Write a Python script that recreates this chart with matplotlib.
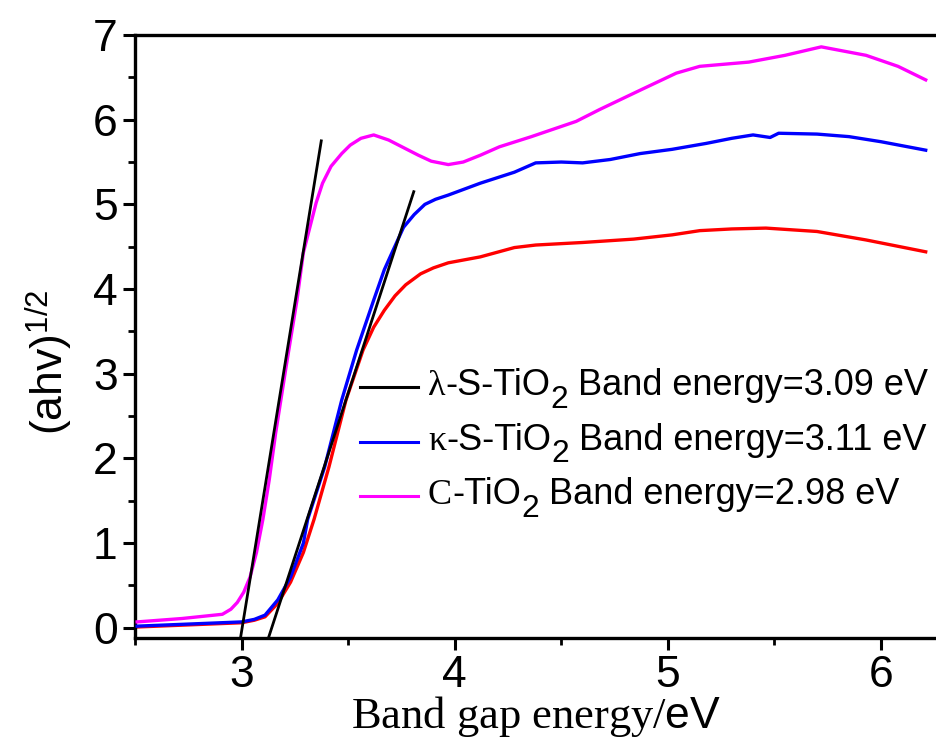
import matplotlib
matplotlib.use("Agg")
import matplotlib.pyplot as plt
from matplotlib.ticker import MultipleLocator
from matplotlib.lines import Line2D

plt.rcParams['font.family'] = ['Liberation Sans', 'DejaVu Sans']
plt.rcParams['mathtext.fontset'] = 'custom'
plt.rcParams['mathtext.rm'] = 'Liberation Serif'
plt.rcParams['mathtext.it'] = 'Liberation Serif:italic'
plt.rcParams['mathtext.sf'] = 'Liberation Sans'

# ---- data ----
c_x = [2.51, 2.72, 2.91, 2.95, 2.98, 3.01, 3.04, 3.07, 3.10, 3.13, 3.16, 3.21, 3.26,
       3.29, 3.35, 3.38, 3.42, 3.47, 3.51, 3.56, 3.62, 3.69, 3.76, 3.83, 3.89, 3.97,
       4.04, 4.12, 4.21, 4.36, 4.50, 4.57, 4.68, 4.88, 5.04, 5.15, 5.38, 5.55, 5.72,
       5.93, 6.08, 6.21]
c_y = [0.07, 0.11, 0.16, 0.22, 0.30, 0.42, 0.60, 0.89, 1.28, 1.75, 2.30, 3.10, 3.87,
       4.43, 5.02, 5.25, 5.45, 5.60, 5.70, 5.78, 5.82, 5.76, 5.67, 5.58, 5.51, 5.47,
       5.50, 5.58, 5.68, 5.80, 5.92, 5.98, 6.12, 6.36, 6.55, 6.63, 6.68, 6.76, 6.86,
       6.76, 6.63, 6.47]

k_x = [2.51, 3.00, 3.06, 3.11, 3.17, 3.23, 3.29, 3.31, 3.39, 3.47, 3.54, 3.62, 3.67,
       3.76, 3.81, 3.86, 3.91, 3.97, 4.12, 4.28, 4.38, 4.50, 4.60, 4.73, 4.87, 5.02,
       5.18, 5.30, 5.40, 5.48, 5.52, 5.70, 5.85, 6.00, 6.21]
k_y = [0.02, 0.07, 0.10, 0.15, 0.33, 0.60, 1.00, 1.28, 1.90, 2.69, 3.28, 3.87, 4.23,
       4.73, 4.88, 5.00, 5.06, 5.11, 5.25, 5.38, 5.49, 5.50, 5.49, 5.53, 5.60, 5.65,
       5.72, 5.78, 5.82, 5.79, 5.84, 5.83, 5.80, 5.74, 5.64]

l_x = [2.51, 3.00, 3.06, 3.11, 3.17, 3.23, 3.29, 3.34, 3.41, 3.49, 3.57, 3.62, 3.67,
       3.72, 3.77, 3.84, 3.90, 3.97, 4.12, 4.28, 4.38, 4.60, 4.84, 5.02, 5.15, 5.30,
       5.46, 5.70, 5.93, 6.21]
l_y = [0.01, 0.06, 0.09, 0.13, 0.29, 0.54, 0.89, 1.28, 1.90, 2.69, 3.28, 3.55, 3.75,
       3.92, 4.05, 4.18, 4.25, 4.31, 4.38, 4.49, 4.52, 4.55, 4.59, 4.64, 4.69, 4.71,
       4.72, 4.68, 4.58, 4.44]

# tangent lines (endpoints)
t1_x = [2.995, 3.374]
t1_y = [-0.12, 5.75]
t2_x = [3.126, 3.808]
t2_y = [-0.12, 5.15]

leg_prefix = ['\u03bb', '\u03ba', 'C']
leg_mid = ['-S-TiO', '-S-TiO', '-TiO']
leg_sub = ['2', '2', '2']
leg_rest = [' Band energy=3.09 eV', ' Band energy=3.11 eV', ' Band energy=2.98 eV']
leg_colors = ['black', '#0000ff', '#ff00ff']

W, H = 937, 750
fig = plt.figure(figsize=(W / 100, H / 100), dpi=100)
ax = fig.add_axes([135 / W, 112 / H, 1 - 135 / W, (638 - 35) / H])

lw = 2.4
ax.plot(l_x, l_y, color='#ff0000', lw=lw, zorder=2)
ax.plot(k_x, k_y, color='#0000ff', lw=lw, zorder=3)
ax.plot(c_x, c_y, color='#ff00ff', lw=lw, zorder=3)
ax.plot(t1_x, t1_y, color='black', lw=2.0, zorder=4, clip_on=False)
ax.plot(t2_x, t2_y, color='black', lw=2.0, zorder=4, clip_on=False)

ax.set_xlim(2.5, 6.263)
ax.set_ylim(-0.12, 7.0)
ax.xaxis.set_major_locator(MultipleLocator(1))
ax.xaxis.set_minor_locator(MultipleLocator(0.5))
ax.yaxis.set_major_locator(MultipleLocator(1))
ax.yaxis.set_minor_locator(MultipleLocator(0.5))

for s in ['left', 'bottom', 'top']:
    ax.spines[s].set_linewidth(2.4)
ax.spines['right'].set_visible(False)

ax.tick_params(which='major', direction='out', length=8.5, width=2.2, labelsize=32)
ax.tick_params(axis='x', which='major', pad=4)
ax.tick_params(axis='y', which='major', pad=4)
ax.tick_params(which='minor', direction='out', length=5, width=2.0)

# legend (drawn by hand so that the subscript 2 is large and lowered, as in the original)
fs = 26
for i in range(3):
    base = 395 + i * 54.5
    liney = base - 8
    fig.add_artist(Line2D([360 / W, 418 / W], [1 - liney / H, 1 - liney / H],
                          transform=fig.transFigure, color=leg_colors[i], lw=2.2))
    t0 = fig.text(428 / W, 1 - base / H, leg_prefix[i], family='Liberation Serif',
                  fontsize=fs, va='baseline', ha='left')
    t1 = ax.annotate(leg_mid[i], xy=(1, 0), xycoords=t0, va='bottom', ha='left',
                     fontsize=fs, annotation_clip=False)
    t2 = ax.annotate(leg_sub[i], xy=(1, 0), xycoords=t1, xytext=(0, -8.5),
                     textcoords='offset points', va='bottom', ha='left',
                     fontsize=fs * 0.88, annotation_clip=False)
    ax.annotate(leg_rest[i], xy=(1, 0), xycoords=(t2, t1), va='bottom', ha='left',
                fontsize=fs, annotation_clip=False)

fig.text((135 + 937) / 2 / W, 1 - 728 / H, r'Band gap energy/$\mathsf{eV}$',
         fontsize=32, family='Liberation Serif', ha='center', va='baseline')
fig.text(49 / W, 1 - 362 / H, r'(ahv)$^{\mathsf{1/2}}$', fontsize=32,
         rotation=90, ha='center', va='center')

fig.savefig('out.png', dpi=100)
